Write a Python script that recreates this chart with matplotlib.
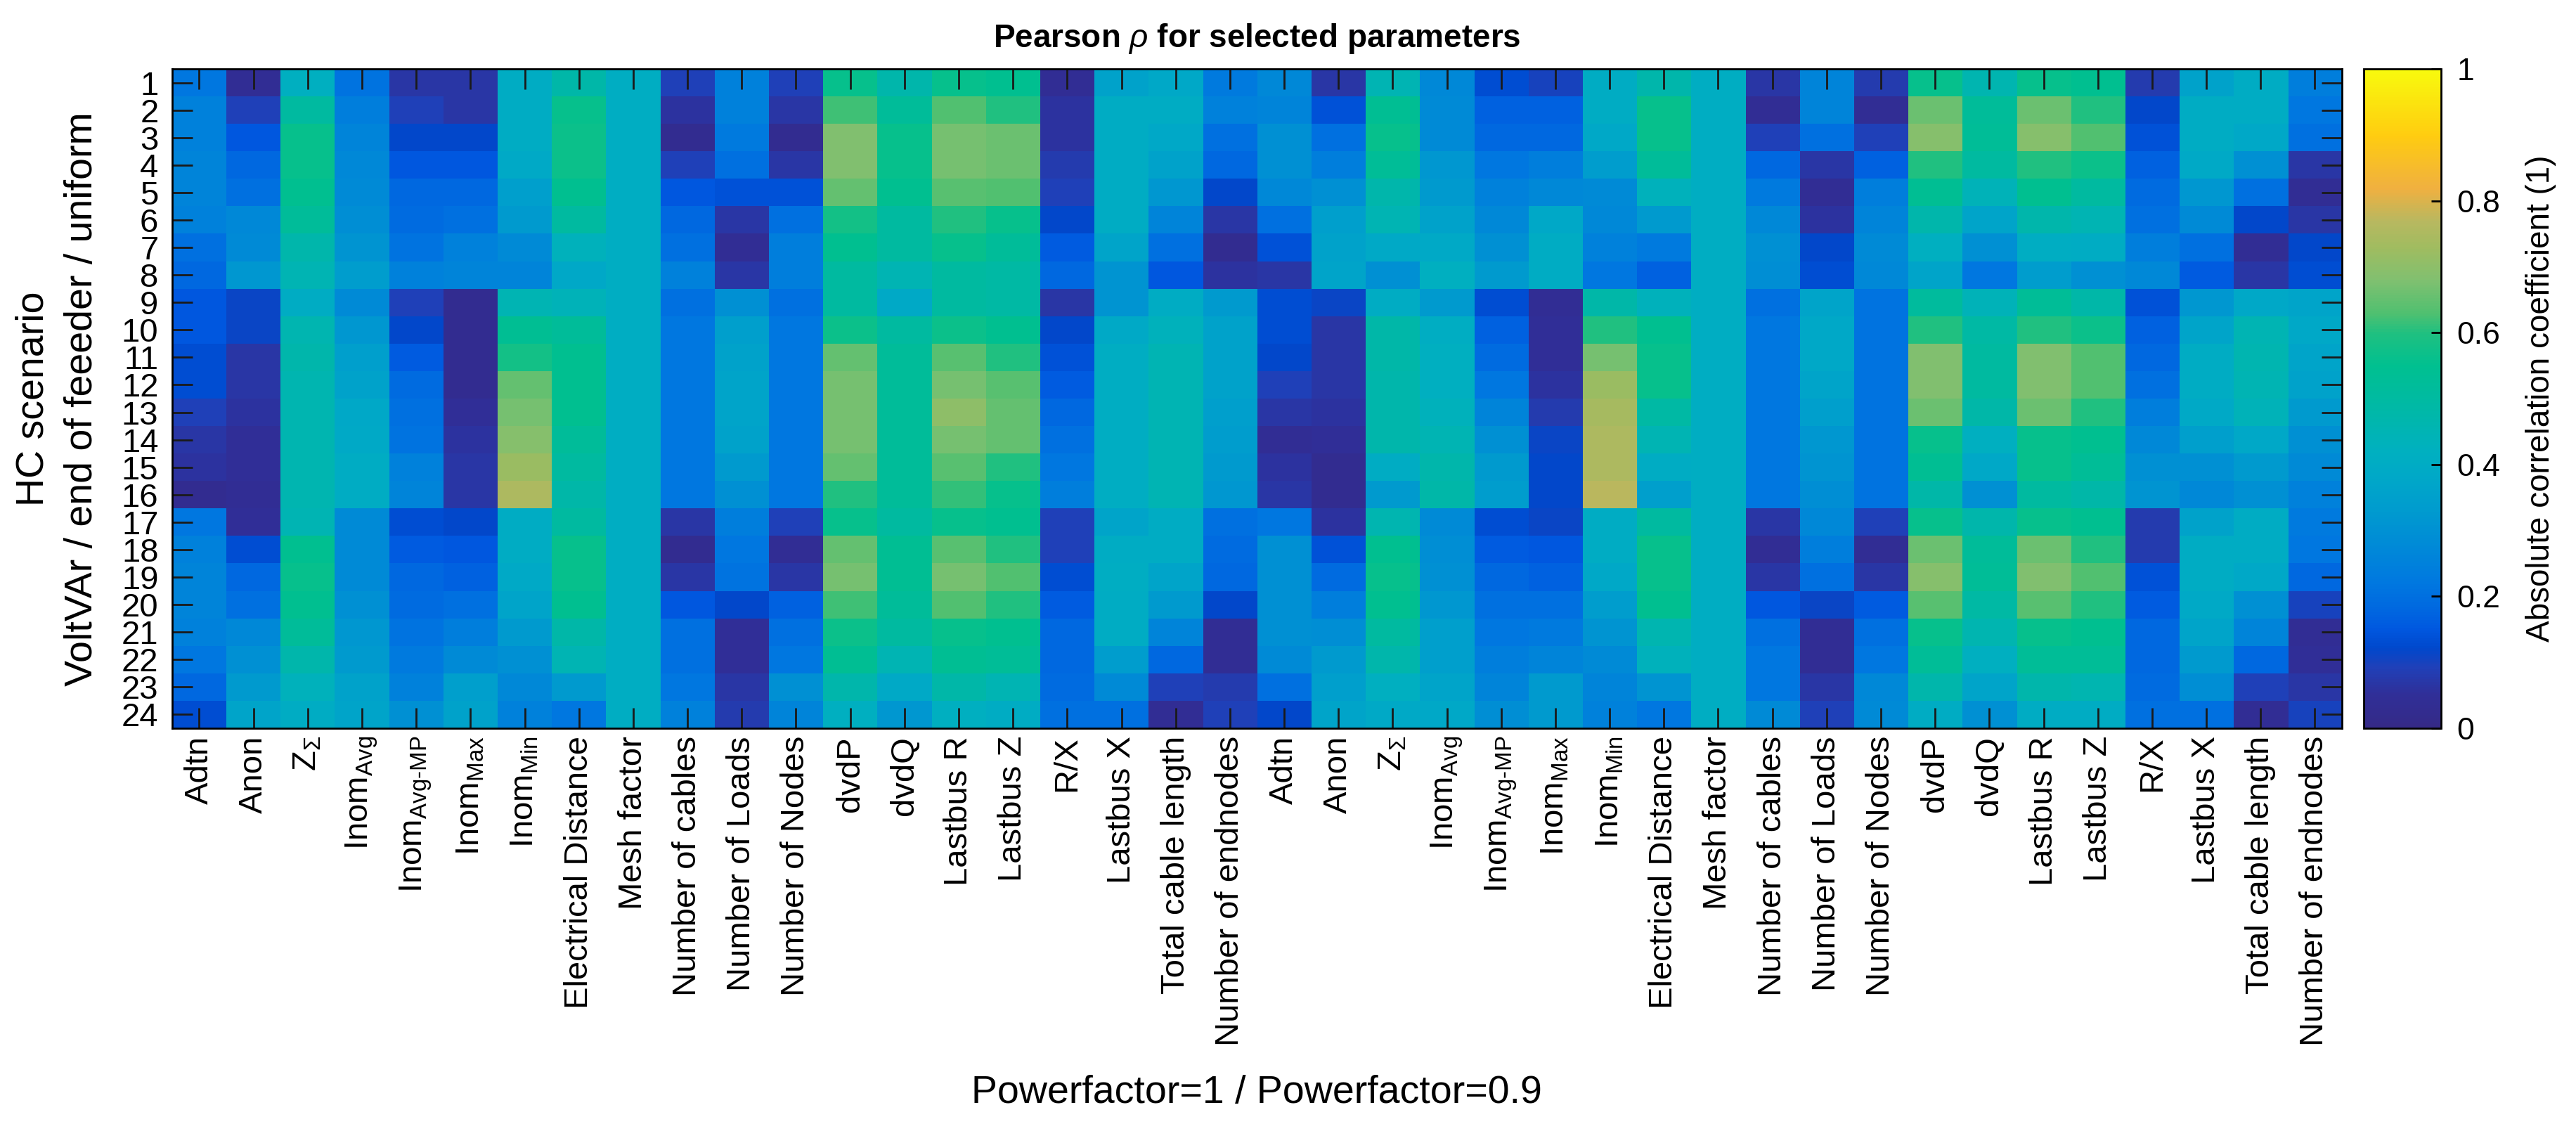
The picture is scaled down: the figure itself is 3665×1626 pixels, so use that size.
import numpy as np
import matplotlib
matplotlib.use("Agg")
import matplotlib.pyplot as plt
from matplotlib.colors import LinearSegmentedColormap

plt.rcParams['font.family'] = ['Liberation Sans', 'DejaVu Sans']
plt.rcParams['mathtext.fontset'] = 'custom'
plt.rcParams['mathtext.rm'] = 'Liberation Sans'
plt.rcParams['mathtext.it'] = 'Liberation Sans:italic'
plt.rcParams['mathtext.bf'] = 'Liberation Sans:bold'

params = ['Adtn', 'Anon', r'Z$_{\Sigma}$', r'Inom$_{\text{Avg}}$', r'Inom$_{\text{Avg-MP}}$',
          r'Inom$_{\text{Max}}$', r'Inom$_{\text{Min}}$', 'Electrical Distance', 'Mesh factor',
          'Number of cables', 'Number of Loads', 'Number of Nodes', 'dvdP', 'dvdQ',
          'Lastbus R', 'Lastbus Z', 'R/X', 'Lastbus X', 'Total cable length',
          'Number of endnodes']
scenarios = [str(i) for i in range(1, 25)]

# |rho| per parameter (one row = one parameter, 24 HC scenarios), powerfactor = 1
rho_pf1 = np.array([
    [0.22, 0.25, 0.25, 0.26, 0.26, 0.25, 0.20, 0.18, 0.15, 0.15, 0.13, 0.13, 0.09, 0.07, 0.06, 0.03, 0.22, 0.25, 0.26, 0.26, 0.25, 0.22, 0.18, 0.13],
    [0.04, 0.09, 0.15, 0.18, 0.20, 0.27, 0.28, 0.32, 0.11, 0.11, 0.07, 0.07, 0.06, 0.05, 0.05, 0.04, 0.05, 0.13, 0.18, 0.20, 0.27, 0.30, 0.33, 0.37],
    [0.42, 0.50, 0.56, 0.56, 0.55, 0.52, 0.47, 0.45, 0.40, 0.46, 0.47, 0.46, 0.46, 0.46, 0.46, 0.46, 0.45, 0.55, 0.56, 0.55, 0.52, 0.47, 0.43, 0.40],
    [0.21, 0.24, 0.26, 0.27, 0.28, 0.29, 0.31, 0.34, 0.28, 0.32, 0.35, 0.36, 0.38, 0.39, 0.40, 0.40, 0.28, 0.28, 0.28, 0.30, 0.32, 0.33, 0.36, 0.37],
    [0.07, 0.09, 0.12, 0.15, 0.18, 0.19, 0.21, 0.25, 0.09, 0.12, 0.16, 0.19, 0.20, 0.21, 0.25, 0.26, 0.13, 0.16, 0.18, 0.19, 0.21, 0.23, 0.25, 0.30],
    [0.07, 0.07, 0.12, 0.15, 0.18, 0.20, 0.25, 0.26, 0.03, 0.03, 0.03, 0.03, 0.05, 0.06, 0.07, 0.07, 0.12, 0.15, 0.17, 0.20, 0.24, 0.28, 0.35, 0.36],
    [0.40, 0.40, 0.40, 0.39, 0.35, 0.33, 0.28, 0.26, 0.45, 0.54, 0.58, 0.65, 0.67, 0.69, 0.72, 0.75, 0.40, 0.40, 0.39, 0.37, 0.33, 0.30, 0.27, 0.25],
    [0.48, 0.56, 0.57, 0.57, 0.55, 0.50, 0.43, 0.38, 0.44, 0.52, 0.55, 0.55, 0.55, 0.52, 0.50, 0.48, 0.50, 0.56, 0.56, 0.55, 0.48, 0.45, 0.33, 0.22],
    [0.41, 0.41, 0.41, 0.41, 0.41, 0.41, 0.41, 0.41, 0.41, 0.41, 0.41, 0.41, 0.41, 0.41, 0.41, 0.41, 0.41, 0.41, 0.41, 0.41, 0.41, 0.41, 0.41, 0.41],
    [0.09, 0.06, 0.03, 0.09, 0.15, 0.18, 0.20, 0.25, 0.20, 0.22, 0.22, 0.22, 0.22, 0.22, 0.22, 0.22, 0.07, 0.03, 0.07, 0.15, 0.20, 0.20, 0.22, 0.25],
    [0.25, 0.25, 0.23, 0.20, 0.14, 0.07, 0.04, 0.07, 0.30, 0.35, 0.36, 0.37, 0.37, 0.36, 0.33, 0.30, 0.24, 0.22, 0.21, 0.12, 0.05, 0.05, 0.07, 0.08],
    [0.09, 0.07, 0.03, 0.07, 0.14, 0.20, 0.24, 0.24, 0.20, 0.22, 0.22, 0.22, 0.22, 0.22, 0.22, 0.22, 0.09, 0.04, 0.07, 0.17, 0.20, 0.22, 0.30, 0.26],
    [0.56, 0.62, 0.68, 0.68, 0.65, 0.58, 0.55, 0.50, 0.50, 0.57, 0.65, 0.67, 0.67, 0.67, 0.65, 0.60, 0.56, 0.65, 0.67, 0.62, 0.57, 0.54, 0.47, 0.42],
    [0.47, 0.52, 0.56, 0.56, 0.55, 0.50, 0.50, 0.45, 0.39, 0.50, 0.52, 0.52, 0.52, 0.52, 0.52, 0.52, 0.50, 0.54, 0.54, 0.52, 0.50, 0.45, 0.39, 0.32],
    [0.56, 0.63, 0.67, 0.67, 0.64, 0.60, 0.56, 0.50, 0.50, 0.57, 0.64, 0.67, 0.70, 0.67, 0.64, 0.61, 0.56, 0.64, 0.67, 0.63, 0.56, 0.54, 0.48, 0.42],
    [0.55, 0.60, 0.66, 0.66, 0.63, 0.56, 0.52, 0.49, 0.49, 0.55, 0.60, 0.64, 0.65, 0.65, 0.60, 0.56, 0.55, 0.60, 0.63, 0.60, 0.55, 0.53, 0.45, 0.40],
    [0.04, 0.06, 0.06, 0.08, 0.09, 0.12, 0.16, 0.18, 0.07, 0.12, 0.14, 0.16, 0.18, 0.20, 0.22, 0.24, 0.09, 0.09, 0.13, 0.16, 0.18, 0.18, 0.19, 0.20],
    [0.36, 0.40, 0.40, 0.40, 0.40, 0.40, 0.37, 0.31, 0.31, 0.39, 0.41, 0.41, 0.41, 0.41, 0.41, 0.41, 0.37, 0.40, 0.41, 0.40, 0.40, 0.34, 0.28, 0.20],
    [0.38, 0.40, 0.38, 0.36, 0.32, 0.26, 0.20, 0.15, 0.40, 0.43, 0.45, 0.45, 0.45, 0.45, 0.45, 0.45, 0.40, 0.40, 0.37, 0.33, 0.26, 0.18, 0.09, 0.04],
    [0.23, 0.25, 0.20, 0.18, 0.12, 0.07, 0.03, 0.06, 0.33, 0.36, 0.36, 0.36, 0.35, 0.34, 0.33, 0.32, 0.20, 0.19, 0.18, 0.12, 0.04, 0.04, 0.08, 0.09],
])

# same parameters, powerfactor = 0.9
rho_pf09 = np.array([
    [0.27, 0.26, 0.30, 0.30, 0.27, 0.20, 0.14, 0.07, 0.13, 0.13, 0.12, 0.09, 0.07, 0.04, 0.06, 0.07, 0.22, 0.30, 0.30, 0.30, 0.30, 0.28, 0.20, 0.12],
    [0.07, 0.14, 0.20, 0.24, 0.30, 0.35, 0.36, 0.37, 0.11, 0.07, 0.07, 0.07, 0.06, 0.05, 0.03, 0.03, 0.06, 0.14, 0.19, 0.24, 0.29, 0.33, 0.35, 0.37],
    [0.45, 0.54, 0.56, 0.53, 0.47, 0.45, 0.39, 0.30, 0.40, 0.48, 0.48, 0.47, 0.47, 0.47, 0.40, 0.33, 0.46, 0.55, 0.56, 0.55, 0.50, 0.47, 0.42, 0.39],
    [0.27, 0.28, 0.28, 0.32, 0.33, 0.36, 0.39, 0.42, 0.33, 0.41, 0.42, 0.42, 0.43, 0.45, 0.47, 0.48, 0.28, 0.29, 0.30, 0.32, 0.35, 0.35, 0.37, 0.38],
    [0.13, 0.17, 0.18, 0.22, 0.25, 0.27, 0.30, 0.33, 0.13, 0.17, 0.19, 0.22, 0.26, 0.30, 0.33, 0.34, 0.13, 0.16, 0.18, 0.20, 0.22, 0.24, 0.26, 0.29],
    [0.10, 0.17, 0.18, 0.24, 0.27, 0.38, 0.40, 0.40, 0.04, 0.05, 0.05, 0.06, 0.08, 0.11, 0.12, 0.12, 0.11, 0.15, 0.17, 0.20, 0.23, 0.26, 0.33, 0.33],
    [0.40, 0.40, 0.38, 0.34, 0.28, 0.27, 0.25, 0.22, 0.48, 0.60, 0.67, 0.72, 0.74, 0.75, 0.75, 0.77, 0.40, 0.40, 0.38, 0.34, 0.31, 0.28, 0.26, 0.25],
    [0.47, 0.56, 0.56, 0.52, 0.43, 0.33, 0.23, 0.17, 0.43, 0.55, 0.56, 0.56, 0.49, 0.45, 0.40, 0.35, 0.50, 0.56, 0.56, 0.55, 0.46, 0.43, 0.31, 0.22],
    [0.41, 0.41, 0.41, 0.41, 0.41, 0.41, 0.41, 0.41, 0.41, 0.41, 0.41, 0.41, 0.41, 0.41, 0.41, 0.41, 0.41, 0.41, 0.41, 0.41, 0.41, 0.41, 0.41, 0.41],
    [0.07, 0.04, 0.09, 0.18, 0.23, 0.27, 0.30, 0.29, 0.20, 0.22, 0.22, 0.22, 0.22, 0.22, 0.22, 0.22, 0.07, 0.04, 0.07, 0.15, 0.20, 0.22, 0.22, 0.28],
    [0.26, 0.26, 0.20, 0.07, 0.04, 0.06, 0.12, 0.13, 0.37, 0.38, 0.38, 0.37, 0.35, 0.32, 0.31, 0.29, 0.27, 0.24, 0.20, 0.11, 0.04, 0.04, 0.07, 0.09],
    [0.08, 0.04, 0.09, 0.17, 0.24, 0.26, 0.28, 0.27, 0.21, 0.21, 0.21, 0.21, 0.21, 0.21, 0.21, 0.21, 0.09, 0.04, 0.07, 0.16, 0.20, 0.22, 0.27, 0.28],
    [0.56, 0.66, 0.69, 0.60, 0.54, 0.47, 0.42, 0.37, 0.51, 0.60, 0.68, 0.68, 0.66, 0.56, 0.54, 0.48, 0.56, 0.66, 0.69, 0.64, 0.56, 0.53, 0.47, 0.40],
    [0.46, 0.52, 0.53, 0.50, 0.44, 0.37, 0.30, 0.22, 0.44, 0.49, 0.50, 0.50, 0.48, 0.42, 0.38, 0.30, 0.47, 0.52, 0.53, 0.49, 0.46, 0.42, 0.37, 0.30],
    [0.56, 0.66, 0.69, 0.60, 0.55, 0.47, 0.41, 0.34, 0.53, 0.60, 0.68, 0.68, 0.66, 0.56, 0.56, 0.50, 0.56, 0.66, 0.68, 0.64, 0.56, 0.53, 0.47, 0.40],
    [0.55, 0.60, 0.63, 0.57, 0.50, 0.45, 0.40, 0.30, 0.48, 0.57, 0.63, 0.63, 0.60, 0.55, 0.53, 0.48, 0.55, 0.60, 0.63, 0.60, 0.55, 0.53, 0.46, 0.40],
    [0.08, 0.12, 0.14, 0.17, 0.19, 0.20, 0.24, 0.27, 0.14, 0.17, 0.18, 0.20, 0.24, 0.27, 0.30, 0.31, 0.08, 0.08, 0.14, 0.16, 0.18, 0.18, 0.19, 0.20],
    [0.36, 0.40, 0.40, 0.39, 0.32, 0.28, 0.20, 0.16, 0.32, 0.37, 0.40, 0.40, 0.39, 0.35, 0.30, 0.27, 0.36, 0.40, 0.40, 0.39, 0.37, 0.33, 0.29, 0.20],
    [0.40, 0.40, 0.38, 0.30, 0.20, 0.12, 0.04, 0.07, 0.38, 0.45, 0.46, 0.45, 0.44, 0.38, 0.33, 0.30, 0.40, 0.40, 0.38, 0.30, 0.26, 0.18, 0.09, 0.04],
    [0.24, 0.22, 0.20, 0.07, 0.04, 0.07, 0.12, 0.13, 0.37, 0.38, 0.37, 0.36, 0.33, 0.30, 0.28, 0.25, 0.23, 0.22, 0.18, 0.10, 0.04, 0.05, 0.07, 0.10],
])

# parula-like map, tuned to the colours seen in the picture
cmap = LinearSegmentedColormap.from_list('parula_like', [
    (0.00, '#352a87'), (0.05, '#302f98'), (0.09, '#2040b8'), (0.12, '#0048cc'),
    (0.15, '#0058e0'), (0.18, '#0068e0'), (0.22, '#0078e0'), (0.27, '#0088d8'),
    (0.32, '#0098d0'), (0.38, '#00a8c8'), (0.42, '#00b0c0'), (0.48, '#00b8a8'),
    (0.55, '#00c090'), (0.60, '#20c080'), (0.63, '#50c070'), (0.68, '#80c070'),
    (0.73, '#a0bc60'), (0.77, '#b8b860'), (0.82, '#f0b040'), (0.90, '#ffcc10'),
    (1.00, '#f8fa0d')])

rho = np.hstack([rho_pf1.T, rho_pf09.T])

fig = plt.figure(figsize=(36.66, 16.26), dpi=100)
ax = fig.add_axes([0.0668, 0.3629, 0.8421, 0.5768])
im = ax.imshow(rho, cmap=cmap, vmin=0, vmax=1, aspect='auto', interpolation='nearest')

ax.set_xticks(np.arange(rho.shape[1]))
ax.set_xticklabels(params + params, rotation=90)
ax.set_yticks(np.arange(rho.shape[0]))
ax.set_yticklabels(scenarios)
ax.tick_params(direction='in', length=21, width=2, top=True, right=True,
               labelsize=34, color='#1a1a1a')
ax.tick_params(axis='x', pad=8)
ax.tick_params(axis='y', pad=14)
for s in ax.spines.values():
    s.set_linewidth(2)

ax.set_title(r'Pearson $\rho$ for selected parameters', fontsize=33,
             fontweight='bold', pad=22)
fig.text(0.4877, 0.0437, 'Powerfactor=1 / Powerfactor=0.9', fontsize=40,
         ha='center', va='center')
fig.text(0.0225, 0.651, 'HC scenario\nVoltVAr / end of feeeder / uniform',
         fontsize=40, rotation=90, ha='center', va='center',
         multialignment='center', linespacing=1.45)

cax = fig.add_axes([0.9174, 0.3629, 0.0300, 0.5768])
cb = fig.colorbar(im, cax=cax)
cb.set_ticks([0, 0.2, 0.4, 0.6, 0.8, 1])
cb.set_ticklabels(['0', '0.2', '0.4', '0.6', '0.8', '1'])
cb.ax.tick_params(direction='in', length=10, width=2, labelsize=32, pad=16)
cb.outline.set_linewidth(2)
cb.set_label('Absolute correlation coefficient (1)', fontsize=33, labelpad=26)

fig.savefig('out.png', dpi=100)
